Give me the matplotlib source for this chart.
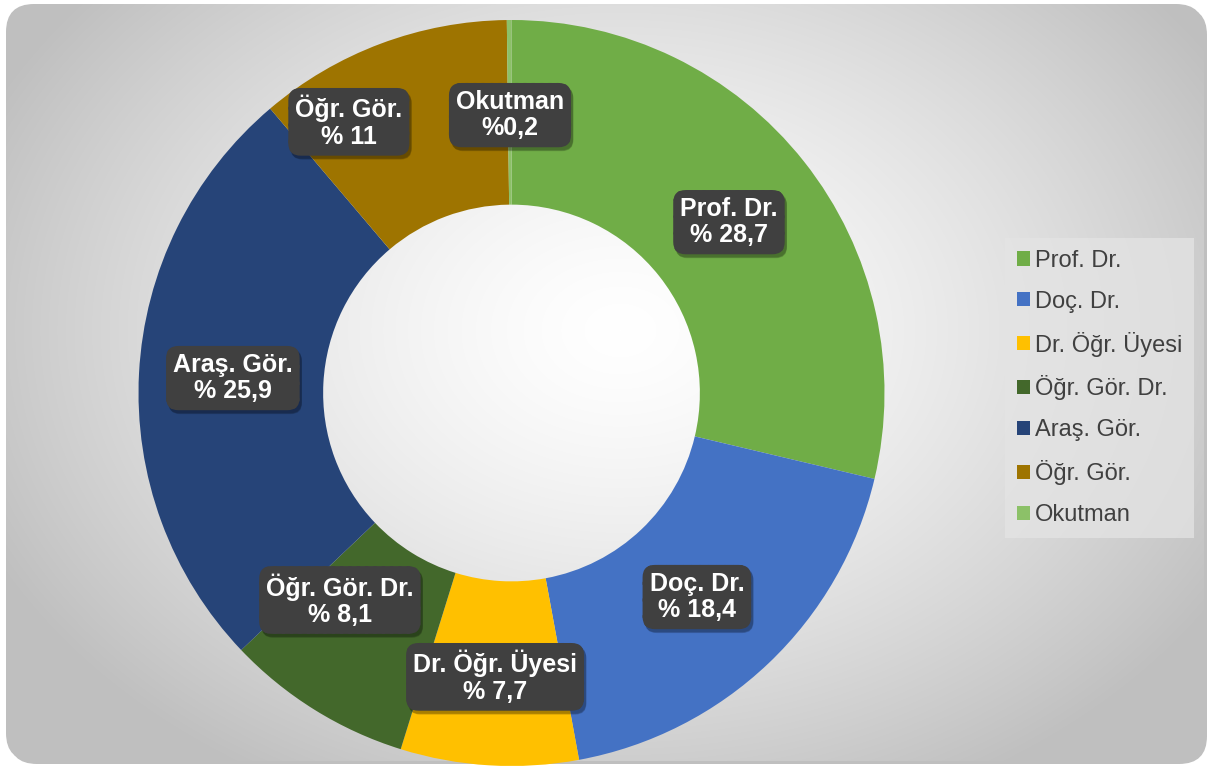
import numpy as np
import matplotlib
matplotlib.use("Agg")
import matplotlib.pyplot as plt
from matplotlib.patches import FancyBboxPatch
import matplotlib.transforms as mtransforms

plt.rcParams['font.family'] = ['Liberation Sans', 'DejaVu Sans']
plt.rcParams['hatch.color'] = '#575757'
plt.rcParams['hatch.linewidth'] = 1.3

categories = ["Prof. Dr.", "Doç. Dr.", "Dr. Öğr. Üyesi", "Öğr. Gör. Dr.", "Araş. Gör.", "Öğr. Gör.", "Okutman"]
values = [28.7, 18.4, 7.7, 8.1, 25.9, 11.0, 0.2]
value_labels = ["% 28,7", "% 18,4", "% 7,7", "% 8,1", "% 25,9", "% 11", "%0,2"]
colors = ["#70AD47", "#4472C4", "#FFC000", "#43682B", "#264478", "#9E7400", "#8CC168"]
# label box centres (in pie-radius units)
label_pos = [(0.583, 0.458), (0.497, -0.547), (-0.044, -0.761), (-0.460, -0.555),
             (-0.747, 0.040), (-0.436, 0.727), (-0.004, 0.745)]

W, H = 1214, 769
fig = plt.figure(figsize=(W / 100, H / 100), dpi=100)
fig.patch.set_facecolor("white")

# background panel with radial gradient
bg = fig.add_axes([0, 0, 1, 1])
bg.set_xlim(0, W)
bg.set_ylim(H, 0)
bg.axis("off")
yy, xx = np.mgrid[0:H, 0:W]
d = np.sqrt(((xx - 620) / 700.0) ** 2 + ((yy - 330) / 520.0) ** 2)
d = np.clip(d, 0, 1)
g = 1.0 - 0.25 * d ** 1.4
img = np.dstack([g, g, g])
shadow = FancyBboxPatch((9, 7), W - 16, H - 12, boxstyle="round,pad=0,rounding_size=28",
                        facecolor="#bfbfbf", edgecolor="none", zorder=0)
bg.add_patch(shadow)
panel = FancyBboxPatch((6, 4), W - 16, H - 12, boxstyle="round,pad=0,rounding_size=28",
                       facecolor="none", edgecolor="none", zorder=1)
bg.add_patch(panel)
im = bg.imshow(img, extent=(0, W, H, 0), zorder=1, interpolation="bilinear")
im.set_clip_path(panel)

# donut
cx, cy, r = 511.5, 393.0, 373.0
ax = fig.add_axes([(cx - r) / W, (H - cy - r) / H, 2 * r / W, 2 * r / H])
wedges, _ = ax.pie(values, colors=colors, startangle=90, counterclock=False, radius=1.0,
                   wedgeprops=dict(width=0.495, edgecolor="none"))
ax.set_xlim(-1, 1)
ax.set_ylim(-1, 1)
ax.set_aspect("equal")
ax.axis("off")

# labels
texts = []
for cat, vl, (x, y) in zip(categories, value_labels, label_pos):
    t = ax.text(x, y, f"{cat}\n{vl}", ha="center", va="center", fontsize=18,
                fontweight="bold", color="white", linespacing=1.12,
                bbox=dict(boxstyle="round,pad=0.28,rounding_size=0.5", facecolor="#404040",
                          edgecolor="#404040", linewidth=0.0, hatch=".."), zorder=5)
    texts.append(t)

# legend
leg = fig.legend(wedges, categories, loc="upper left",
                 bbox_to_anchor=(1005 / W, 1 - 238 / H), fontsize=17,
                 frameon=True, fancybox=False, handlelength=0.55, handleheight=0.55,
                 handletextpad=0.2, labelspacing=0.8, borderpad=0.5,
                 borderaxespad=0)
leg.get_frame().set_facecolor("#e4e4e4")
leg.get_frame().set_alpha(0.75)
leg.get_frame().set_edgecolor("none")
for t in leg.get_texts():
    t.set_color("#404040")

# drop shadows for the label boxes
fig.canvas.draw()
renderer = fig.canvas.get_renderer()
for t in texts:
    bb = t.get_bbox_patch().get_window_extent(renderer)
    for k, a in ((0, 0.12), (1.5, 0.12), (3, 0.14)):
        sp = FancyBboxPatch((bb.x0 + 2 + k * 0.3, bb.y0 - 3 - k * 0.3), bb.width - k * 0.2,
                            bb.height - k * 0.2,
                            boxstyle="round,pad=0,rounding_size=11",
                            facecolor="black", edgecolor="none", alpha=a,
                            transform=mtransforms.IdentityTransform(), zorder=4)
        sp.set_clip_on(False)
        ax.add_patch(sp)

fig.savefig("out.png", dpi=100, facecolor="white")
